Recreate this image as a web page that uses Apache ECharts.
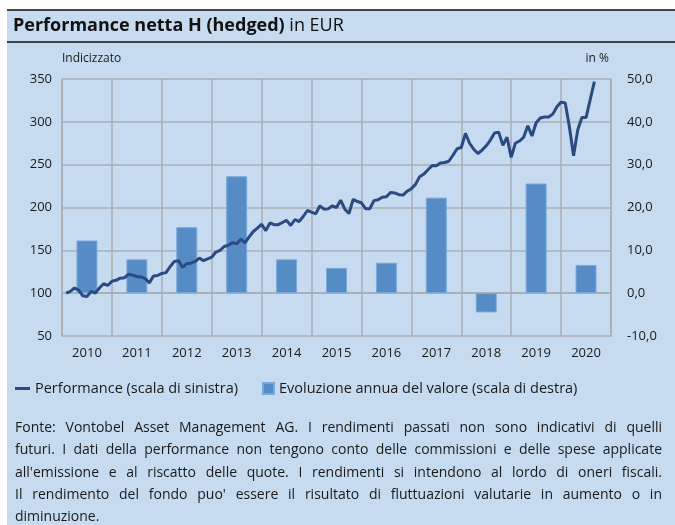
<!DOCTYPE html>
<html>
<head>
<meta charset="utf-8">
<script src="https://cdn.jsdelivr.net/npm/echarts@6/dist/echarts.min.js"></script>
<style>
  body { margin: 0; background: #fff; }
  #wrap { position: relative; width: 675px; height: 525px; }
  #chart { position: absolute; left: 0; top: 0; width: 675px; height: 525px; }
  /* testo in fondo, giustificato come nell'originale */
  #note {
    position: absolute; left: 15px; top: 416px; width: 647px;
    font-family: 'Open Sans', sans-serif; font-size: 14px; line-height: 22.3px; color: #1a1a1a;
  }
  #note div { text-align: justify; text-align-last: justify; white-space: nowrap; }
  #note div.last { text-align-last: left; }
</style>
</head>
<body>
<div id="wrap">
  <div id="chart"></div>
  <div id="note">
    <div>Fonte: Vontobel Asset Management AG. I rendimenti passati non sono indicativi di quelli</div>
    <div>futuri. I dati della performance non tengono conto delle commissioni e delle spese applicate</div>
    <div>all'emissione e al riscatto delle quote. I rendimenti si intendono al lordo di oneri fiscali.</div>
    <div>Il rendimento del fondo puo' essere il risultato di fluttuazioni valutarie in aumento o in</div>
    <div class="last">diminuzione.</div>
  </div>
</div>
<script>
// anni (asse categorie)
const years = ['2010', '2011', '2012', '2013', '2014', '2015', '2016', '2017', '2018', '2019', '2020']
// evoluzione annua del valore in % (scala di destra)
const annualReturns = [12.3, 7.9, 15.4, 27.3, 7.9, 5.9, 7.1, 22.3, -4.5, 25.6, 6.6]
// performance indicizzata, un valore per mese da fine gen 2010 (scala di sinistra)
const performance = [
  100, 102, 106, 103.5, 97, 96, 102, 100, 106, 111, 109, 114,
  115, 117.5, 118, 122, 121, 119.5, 119, 117, 112, 120, 120.6, 123,
  124, 131, 137, 138, 130, 134.6, 135, 137, 141, 138, 140, 142,
  148, 150, 154.5, 156, 159, 157.6, 163, 158.7, 165.7, 172, 176, 180.5,
  173, 182, 180, 180, 182.5, 185, 179, 186, 183.6, 189.5, 196.5, 194.5,
  192.6, 202, 198, 198.4, 202, 200, 208.6, 198, 193, 209.4, 207, 205.5,
  198.5, 198.5, 208, 209, 212, 212.5, 217.6, 217, 215, 214.5, 219, 222,
  227, 236, 239, 244, 249, 248.8, 252, 252.6, 254, 261, 268.6, 270,
  286.5, 275, 268, 263, 267, 272, 278.7, 287, 288, 272.5, 282, 258.5,
  275, 277.6, 282, 295.5, 283.4, 299, 304.4, 305.6, 305.6, 309, 317.7, 323,
  322, 294, 260.4, 290.4, 305, 305, 326, 347
]
const leftTicks = [50, 350, 50]   // min, max, passo
const rightTicks = [-10, 50, 10]

const bg = '#c6daf0'
const gridColor = '#a8adb4'
const txtColor = '#1a1a1a'
const font = 'Open Sans'

const chartInstance = echarts.init(document.getElementById('chart'))

const option = {
  backgroundColor: '#fff',
  animation: false,
  textStyle: { fontFamily: font },
  graphic: [
    // sfondo azzurro e le due linee nere del titolo
    { type: 'rect', z: -10, shape: { x: 7, y: 10, width: 668, height: 515 }, style: { fill: bg } },
    { type: 'line', z: -5, shape: { x1: 7, y1: 10, x2: 675, y2: 10 }, style: { stroke: '#111', lineWidth: 1.5 } },
    { type: 'line', z: -5, shape: { x1: 7, y1: 42, x2: 675, y2: 42 }, style: { stroke: '#111', lineWidth: 1.5 } }
  ],
  title: {
    left: 8,
    top: 12,
    text: '{b|Performance netta H (hedged)} {n|in EUR}',
    textStyle: {
      rich: {
        b: { fontFamily: font, fontSize: 18, fontWeight: 'bold', color: '#111' },
        n: { fontFamily: font, fontSize: 18, fontWeight: 'normal', color: '#111' }
      }
    }
  },
  legend: [
    {
      left: 15,
      top: 381,
      padding: 0,
      icon: 'rect',
      itemWidth: 15,
      itemHeight: 3,
      itemGap: 5,
      textStyle: { fontFamily: font, fontSize: 14.5, color: txtColor },
      data: ['Performance (scala di sinistra)']
    },
    {
      left: 262,
      top: 381,
      padding: 0,
      icon: 'rect',
      itemWidth: 11,
      itemHeight: 11,
      textStyle: { fontFamily: font, fontSize: 14.5, color: txtColor },
      data: ['Evoluzione annua del valore (scala di destra)']
    }
  ],
  grid: { left: 62, right: 64, top: 79, bottom: 189 },
  xAxis: [
    {
      type: 'category',
      data: years,
      boundaryGap: true,
      axisLine: { show: true, lineStyle: { color: gridColor, width: 1.5 } },
      axisTick: { show: false },
      axisLabel: { color: txtColor, fontSize: 13, margin: 11, fontFamily: font },
      splitLine: { show: true, lineStyle: { color: gridColor, width: 1.5 } }
    },
    {
      type: 'value',
      min: 0,
      max: years.length * 12,
      show: false,
      splitLine: { show: false }
    }
  ],
  yAxis: [
    {
      type: 'value',
      position: 'left',
      min: leftTicks[0],
      max: leftTicks[1],
      interval: leftTicks[2],
      name: 'Indicizzato',
      nameLocation: 'end',
      nameGap: 14,
      nameTextStyle: { align: 'left', color: txtColor, fontSize: 12, fontFamily: font },
      axisLine: { show: true, lineStyle: { color: gridColor, width: 1.5 } },
      axisTick: { show: false },
      axisLabel: { color: txtColor, fontSize: 13, margin: 10, fontFamily: font },
      splitLine: { show: true, lineStyle: { color: gridColor, width: 1.5 } }
    },
    {
      type: 'value',
      position: 'right',
      min: rightTicks[0],
      max: rightTicks[1],
      interval: rightTicks[2],
      name: 'in %',
      nameLocation: 'end',
      nameGap: 14,
      nameTextStyle: { align: 'right', color: txtColor, fontSize: 12, fontFamily: font, padding: [0, 2, 0, 0] },
      axisLine: { show: true, lineStyle: { color: gridColor, width: 1.5 } },
      axisTick: { show: false },
      axisLabel: {
        color: txtColor,
        fontSize: 13,
        margin: 16,
        fontFamily: font,
        formatter: v => v.toFixed(1).replace('.', ',')
      },
      splitLine: { show: false }
    }
  ],
  series: [
    {
      name: 'Evoluzione annua del valore (scala di destra)',
      type: 'bar',
      xAxisIndex: 0,
      yAxisIndex: 1,
      barWidth: '42%',
      itemStyle: { color: '#558cc6', borderColor: '#7aa8d8', borderWidth: 1 },
      data: annualReturns
    },
    {
      name: 'Performance (scala di sinistra)',
      type: 'line',
      xAxisIndex: 1,
      yAxisIndex: 0,
      symbol: 'none',
      lineStyle: { color: '#2a4a82', width: 3 },
      itemStyle: { color: '#2a4a82' },
      z: 5,
      // il mese n-esimo sta alla fine del mese n
      data: performance.map((v, i) => [i + 1, v])
    }
  ]
}

chartInstance.setOption(option)
</script>
</body>
</html>
